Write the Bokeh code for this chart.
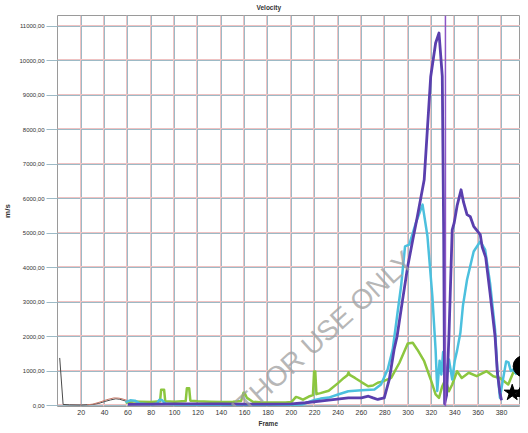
from bokeh.plotting import figure
from bokeh.models import FixedTicker, Grid, Span, Label, Title, Range1d
from bokeh.embed import file_html
from bokeh.resources import INLINE

# ---------------- data ----------------
x_ticks = [20, 40, 60, 80, 100, 120, 140, 160, 180, 200, 220, 240, 260, 280, 300, 320, 340, 360, 380]
y_ticks = [0, 1000, 2000, 3000, 4000, 5000, 6000, 7000, 8000, 9000, 10000, 11000]
y_tick_labels = ["0,00", "1000,00", "2000,00", "3000,00", "4000,00", "5000,00", "6000,00",
                 "7000,00", "8000,00", "9000,00", "10000,00", "11000,00"]

gray_x = [1.6, 4.5, 10, 20, 30, 35, 40, 45, 49.7, 53, 56.7, 60, 65]
gray_y = [1380, 30, 20, 15, 30, 60, 115, 160, 195, 180, 145, 100, 60]

red_x = [25, 30, 37, 42, 48, 52, 55, 59.6, 64]
red_y = [20, 40, 110, 170, 220, 215, 195, 145, 80]

green_x = [58, 62, 70, 80, 87.5, 88.5, 91, 92, 100, 109.5, 110.5, 112.5, 113.5, 120, 130, 140, 150,
           157, 159, 160, 162, 167, 175, 185, 195, 200, 204, 206, 210, 215, 218.5, 219.5, 220.5,
           221.5, 225, 232, 240, 245, 248, 249, 250, 254.5, 260, 265.8, 270, 274, 278.5, 285.5,
           292.6, 299.7, 304, 308, 313.8, 319.4, 323.6, 326.5, 329.3, 332, 335, 337.8, 342, 346,
           352, 358.8, 367.3, 373, 378.7, 385.8, 390, 395]
green_y = [80, 120, 110, 100, 120, 460, 460, 120, 110, 130, 500, 500, 140, 120, 110, 100, 110,
           130, 370, 360, 220, 110, 90, 90, 90, 100, 250, 230, 170, 260, 300, 990, 990,
           330, 360, 430, 650, 800, 880, 960, 890, 800, 680, 560, 580, 660, 700, 800,
           1240, 1800, 1820, 1620, 1285, 755, 320, 220, 560, 750, 415, 610, 995, 800,
           950, 850, 995, 850, 800, 610, 950, 1000]

cyan_x = [58, 62, 66, 70, 80, 85, 87, 89, 92, 100, 120, 140, 160, 180, 200, 209, 215, 220, 225,
          232, 240, 248.8, 260, 271.2, 276.8, 282.5, 286.8, 291, 294, 297.4, 301, 306.7, 312.4,
          316.6, 320.8, 323.6, 325, 327, 328.5, 330, 332, 335, 337.8, 340, 342, 344.8, 347,
          350.5, 356.2, 361.8, 366, 370.2, 374.5, 376.5, 378.7, 381, 384, 386, 388, 390, 393]
cyan_y = [100, 150, 140, 60, 30, 60, 170, 160, 60, 30, 20, 20, 20, 20, 20, 30, 100, 160, 200,
          230, 320, 415, 445, 465, 610, 1045, 1620, 2700, 3460, 4620, 4670, 5300, 5830,
          4910, 3170, 1600, 420, 1300, 900, 1550, 850, 1335, 755, 1300, 1600, 2110, 2900,
          3650, 4470, 4760, 4520, 3560, 2200, 1000, 220, 700, 1280, 1250, 1000, 1045, 900]

purple_x = [60, 80, 100, 120, 140, 160, 180, 200, 212, 232, 248.8, 260, 266, 270, 274, 279.6,
            283.9, 288, 290.6, 295, 299.7, 304, 308, 313.8, 319.4, 323.6, 326.5, 329.3, 330.5,
            331.3, 333, 335, 337.8, 339.5, 342, 345.4, 347.5, 350.5, 353.3, 356.2, 361.8, 363.5,
            366.5, 370.2, 374.5, 376.5, 378.7, 380]
purple_y = [30, 40, 50, 50, 50, 40, 40, 50, 80, 155, 220, 220, 270, 220, 175, 220,
            755, 1620, 2010, 3000, 4040, 4800, 5490, 6550, 9550, 10520, 10810, 9550, 5000,
            50, 300, 2010, 5100, 5300, 5800, 6260, 5900, 5540, 5480, 5200, 4960, 4600,
            4300, 3270, 2010, 950, 370, 150]

cursor_frame = 332

star_x, star_y = [389.2], [370]
circle_x, circle_y = [399], [1140]
tri_x, tri_y = [397.5], [380]

chart_title = "Velocity"

# ---------------- figure ----------------
p = figure(width=520, height=427, output_backend="svg", toolbar_location=None,
           x_range=Range1d(-0.3, 396.3), y_range=Range1d(-29, 11318),
           min_border_left=52, min_border_right=0, min_border_top=15, min_border_bottom=21,
           title=None, background_fill_color="white", border_fill_color="white")

p.outline_line_color = "#9a9a9a"
p.outline_line_width = 1

# grids (scan-like doubled lines: blue-gray + pink)
p.xgrid.ticker = FixedTicker(ticks=x_ticks)
p.ygrid.ticker = FixedTicker(ticks=y_ticks)
p.xgrid.grid_line_color = "#9dbac6"
p.ygrid.grid_line_color = "#9dbac6"
pink_x = Grid(dimension=0, ticker=FixedTicker(ticks=[t - 0.85 for t in x_ticks]),
              grid_line_color="#efc2c2", level="underlay")
pink_y = Grid(dimension=1, ticker=FixedTicker(ticks=[t + 29 for t in y_ticks]),
              grid_line_color="#efc2c2", level="underlay")
p.add_layout(pink_x)
p.add_layout(pink_y)

font = "Liberation Sans"
# x axis
p.xaxis.ticker = FixedTicker(ticks=x_ticks)
p.xaxis.axis_line_color = None
p.xaxis.major_tick_out = 0
p.xaxis.major_tick_in = 0
p.xaxis.minor_tick_line_color = None
p.xaxis.major_label_standoff = 3
p.xaxis.major_label_text_font = font
p.xaxis.major_label_text_font_size = "7px"
p.xaxis.major_label_text_color = "#333333"

# y axis
p.yaxis.ticker = FixedTicker(ticks=y_ticks)
p.yaxis.major_label_overrides = {t: l for t, l in zip(y_ticks, y_tick_labels)}
p.yaxis.axis_line_color = None
p.yaxis.major_tick_out = 11
p.yaxis.major_tick_in = 0
p.yaxis.major_tick_line_color = "#9dbac6"
p.yaxis.minor_tick_line_color = None
p.yaxis.major_label_standoff = 2
p.yaxis.major_label_text_font = font
p.yaxis.major_label_text_font_size = "6px"
p.yaxis.major_label_text_color = "#333333"
p.yaxis.axis_label = "m/s"
p.yaxis.axis_label_text_font = font
p.yaxis.axis_label_text_font_size = "8px"
p.yaxis.axis_label_text_font_style = "bold"
p.yaxis.axis_label_text_color = "#333333"
p.yaxis.axis_label_standoff = 4

# chart title and x-axis title
p.add_layout(Title(text=chart_title, align="left", offset=199, standoff=6, vertical_align="top",
                   text_font=font, text_font_size="6.5px", text_font_style="bold",
                   text_color="#333333"), "above")
p.add_layout(Title(text="Frame", align="left", offset=201, standoff=0,
                   text_font=font, text_font_size="6.5px", text_font_style="bold",
                   text_color="#333333"), "below")

# watermark
p.add_layout(Label(x=302, y=4350, text="FOR AUTHOR USE ONLY", angle=42, angle_units="deg",
                   text_align="right", text_baseline="middle", text_font=font,
                   text_font_size="28px", text_color="#a0a0a0", text_alpha=0.75))

# series
p.line(gray_x, gray_y, line_color="#4a4a4a", line_width=1)
p.line(red_x, red_y, line_color="#c77a6a", line_width=1)
p.line(green_x, green_y, line_color="#8cc63f", line_width=2.5, line_join="round")
p.line(cyan_x, cyan_y, line_color="#4cc0de", line_width=2.5, line_join="round")
p.line(purple_x, purple_y, line_color="#5a3fae", line_width=2.8, line_join="round")

p.add_layout(Span(location=cursor_frame, dimension="height", line_color="#8c55c6", line_width=1.5))

p.scatter(star_x, star_y, marker="star", size=17, color="black")
p.scatter(tri_x, tri_y, marker="triangle", size=14, color="black")
p.scatter(circle_x, circle_y, marker="circle", size=21, color="black")

open("out.html", "w").write(file_html(p, INLINE))
